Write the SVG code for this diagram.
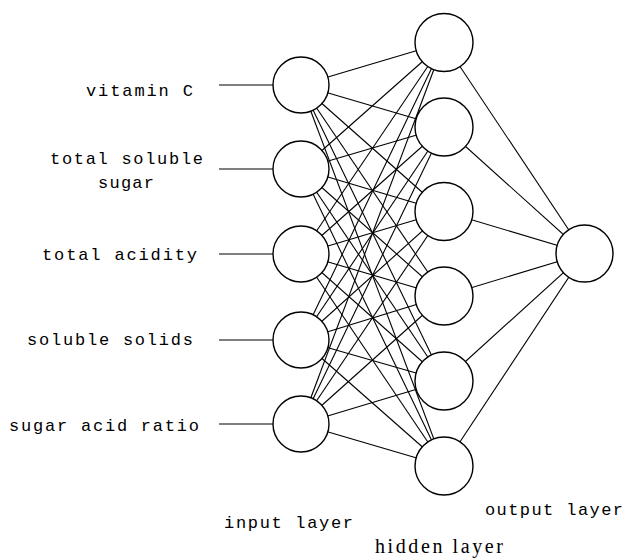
<svg xmlns="http://www.w3.org/2000/svg" width="628" height="559" viewBox="0 0 628 559">
<style>
.n{fill:#fff;stroke:#000;stroke-width:1.4}
.c line{stroke:#000;stroke-width:1.1}
.m{font-family:"Liberation Mono",monospace;font-size:17px;fill:#000}
.s{font-family:"Liberation Serif",serif;font-size:20px;fill:#000}
</style>
<rect width="628" height="559" fill="#fff"/>
<g id="connectors" class="c">
<line x1="219" y1="85" x2="273" y2="85"/>
<line x1="219" y1="169" x2="273" y2="169"/>
<line x1="219" y1="254" x2="273" y2="254"/>
<line x1="219" y1="340" x2="273" y2="340"/>
<line x1="219" y1="424" x2="273" y2="424"/>
<line x1="301" y1="85" x2="444" y2="42.5"/><line x1="301" y1="85" x2="444" y2="127"/><line x1="301" y1="85" x2="444" y2="211.5"/><line x1="301" y1="85" x2="444" y2="296"/><line x1="301" y1="85" x2="444" y2="381"/><line x1="301" y1="85" x2="444" y2="466"/>
<line x1="301" y1="169" x2="444" y2="42.5"/><line x1="301" y1="169" x2="444" y2="127"/><line x1="301" y1="169" x2="444" y2="211.5"/><line x1="301" y1="169" x2="444" y2="296"/><line x1="301" y1="169" x2="444" y2="381"/><line x1="301" y1="169" x2="444" y2="466"/>
<line x1="301" y1="254" x2="444" y2="42.5"/><line x1="301" y1="254" x2="444" y2="127"/><line x1="301" y1="254" x2="444" y2="211.5"/><line x1="301" y1="254" x2="444" y2="296"/><line x1="301" y1="254" x2="444" y2="381"/><line x1="301" y1="254" x2="444" y2="466"/>
<line x1="301" y1="340" x2="444" y2="42.5"/><line x1="301" y1="340" x2="444" y2="127"/><line x1="301" y1="340" x2="444" y2="211.5"/><line x1="301" y1="340" x2="444" y2="296"/><line x1="301" y1="340" x2="444" y2="381"/><line x1="301" y1="340" x2="444" y2="466"/>
<line x1="301" y1="424" x2="444" y2="42.5"/><line x1="301" y1="424" x2="444" y2="127"/><line x1="301" y1="424" x2="444" y2="211.5"/><line x1="301" y1="424" x2="444" y2="296"/><line x1="301" y1="424" x2="444" y2="381"/><line x1="301" y1="424" x2="444" y2="466"/>
<line x1="444" y1="42.5" x2="584.5" y2="253.5"/><line x1="444" y1="127" x2="584.5" y2="253.5"/><line x1="444" y1="211.5" x2="584.5" y2="253.5"/><line x1="444" y1="296" x2="584.5" y2="253.5"/><line x1="444" y1="381" x2="584.5" y2="253.5"/><line x1="444" y1="466" x2="584.5" y2="253.5"/>
</g>
<g id="in1"><circle class="n" cx="301" cy="85" r="28"/></g>
<g id="in2"><circle class="n" cx="301" cy="169" r="28"/></g>
<g id="in3"><circle class="n" cx="301" cy="254" r="28"/></g>
<g id="in4"><circle class="n" cx="301" cy="340" r="28"/></g>
<g id="in5"><circle class="n" cx="301" cy="424" r="28"/></g>
<g id="h1"><circle class="n" cx="444" cy="42.5" r="29"/></g>
<g id="h2"><circle class="n" cx="444" cy="127" r="29"/></g>
<g id="h3"><circle class="n" cx="444" cy="211.5" r="29"/></g>
<g id="h4"><circle class="n" cx="444" cy="296" r="29"/></g>
<g id="h5"><circle class="n" cx="444" cy="381" r="29"/></g>
<g id="h6"><circle class="n" cx="444" cy="466" r="29"/></g>
<g id="out"><circle class="n" cx="584.5" cy="253.5" r="28.5"/></g>
<g id="labels">
<text class="m" x="86" y="96" textLength="107">vitamin C</text>
<text class="m" x="50" y="164" textLength="153">total soluble</text>
<text class="m" x="98" y="188" textLength="56">sugar</text>
<text class="m" x="42" y="260" textLength="155">total acidity</text>
<text class="m" x="27" y="345" textLength="166">soluble solids</text>
<text class="m" x="9" y="431" textLength="190">sugar acid ratio</text>
<text class="m" x="224" y="528" textLength="129">input layer</text>
<text class="m" x="485" y="515" textLength="138">output layer</text>
<text class="s" x="375" y="553" textLength="128">hidden layer</text>
</g>
</svg>
